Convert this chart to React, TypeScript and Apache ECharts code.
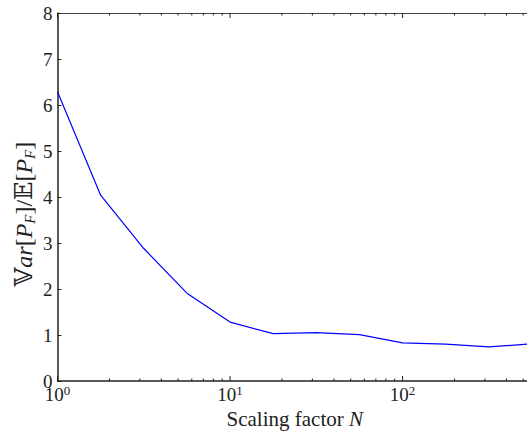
import React, { useEffect, useRef } from "react";
import * as echarts from "echarts";

const scalingFactors = [1, 1.778, 3.162, 5.623, 10, 17.78, 31.62, 56.23, 100, 177.8, 316.2, 562.3];
const ratioValues = [6.29, 4.04, 2.88, 1.91, 1.28, 1.03, 1.05, 1.01, 0.83, 0.8, 0.74, 0.81];
const xMin = 1;
const xMax = 562.3;
const yTicks = [0, 1, 2, 3, 4, 5, 6, 7, 8];
const minorTickValues = [2, 3, 4, 5, 6, 7, 8, 9, 20, 30, 40, 50, 60, 70, 80, 90, 200, 300, 400, 500];
const majorTickValues = [1, 10, 100];

const FONT = "'Liberation Serif', 'DejaVu Serif', serif";

export default function App() {
  const ref = useRef<HTMLDivElement>(null);
  useEffect(() => {
    const chart = echarts.init(ref.current!, null, { renderer: "svg" });
    const tickSeries = (values: number[], len: number) => ({
      type: "custom",
      silent: true,
      z: 5,
      data: values.map((v) => [v]),
      renderItem: (params: any, api: any) => {
        const v = api.value(0);
        const pb = api.coord([v, 0]);
        const pt = api.coord([v, 8]);
        return {
          type: "group",
          children: [
            { type: "line", shape: { x1: pb[0], y1: pb[1], x2: pb[0], y2: pb[1] - len }, style: { stroke: "#222", lineWidth: 1 } },
            { type: "line", shape: { x1: pt[0], y1: pt[1], x2: pt[0], y2: pt[1] + len }, style: { stroke: "#222", lineWidth: 1 } },
          ],
        };
      },
    });
    chart.setOption({
      animation: false,
      grid: { left: 57.5, right: 8, top: 13, bottom: 56, containLabel: false, outerBoundsMode: "none" },
      xAxis: [
        {
          type: "log",
          logBase: 10,
          min: xMin,
          max: xMax,
          axisLine: { lineStyle: { color: "#222", width: 1.5 } },
          axisTick: { show: false },
          splitLine: { show: false },
          axisLabel: {
            showMaxLabel: false,
            margin: 3,
            fontFamily: FONT,
            fontSize: 19,
            color: "#222",
            formatter: (v: number) => {
              const e = Math.round(Math.log10(v));
              return "10{sup|" + e + "}";
            },
            rich: { sup: { fontSize: 13, verticalAlign: "top", fontFamily: FONT, color: "#222", padding: [0, 0, 8, 0] } },
          },
          name: "Scaling factor {i|N}",
          nameLocation: "middle",
          nameGap: 27,
          nameTextStyle: {
            fontFamily: FONT,
            fontSize: 21,
            color: "#222",
            rich: { i: { fontFamily: FONT, fontStyle: "italic", fontSize: 21, color: "#222" } },
          },
        },
        {
          type: "log",
          logBase: 10,
          min: xMin,
          max: xMax,
          position: "top",
          axisLine: { lineStyle: { color: "#444", width: 1.2 } },
          axisTick: { show: false },
          axisLabel: { show: false },
          splitLine: { show: false },
        },
      ],
      yAxis: {
        type: "value",
        min: 0,
        max: 8,
        interval: 1,
        axisLine: { show: true, lineStyle: { color: "#222", width: 1.5 } },
        axisTick: { show: true, inside: true, length: 4, lineStyle: { color: "#222" } },
        splitLine: { show: false },
        axisLabel: {
          margin: 5,
          fontFamily: FONT,
          fontSize: 19,
          color: "#222",
          formatter: (v: number) => (yTicks.includes(v) ? String(v) : ""),
        },
      },
      graphic: [
        {
          type: "text",
          x: 24,
          y: 214,
          rotation: Math.PI / 2,
          style: {
            text: "{n|𝕍}{i|ar}{n|[}{i|P}{s|F}{n|]/𝔼[}{i|P}{s|F}{n|]}",
            align: "center",
            verticalAlign: "middle",
            rich: {
              n: { fontFamily: FONT, fontSize: 24, fill: "#222" },
              i: { fontFamily: FONT, fontStyle: "italic", fontSize: 24, fill: "#222" },
              s: { fontFamily: FONT, fontStyle: "italic", fontSize: 15, fill: "#222", padding: [12, 0, 0, 0] },
            },
          },
        },
      ],
      series: [
        {
          type: "line",
          data: scalingFactors.map((x, i) => [x, ratioValues[i]]),
          showSymbol: false,
          lineStyle: { color: "#0000ff", width: 1.2 },
          z: 3,
        },
        tickSeries(majorTickValues, 5),
        tickSeries(minorTickValues, 2.5),
      ],
    });
    return () => chart.dispose();
  }, []);
  return (
    <div style={{ position: "absolute", left: 0, top: 0, width: 527, height: 437, overflow: "hidden" }}>
      <div ref={ref} style={{ width: 540, height: 437 }} />
    </div>
  );
}
